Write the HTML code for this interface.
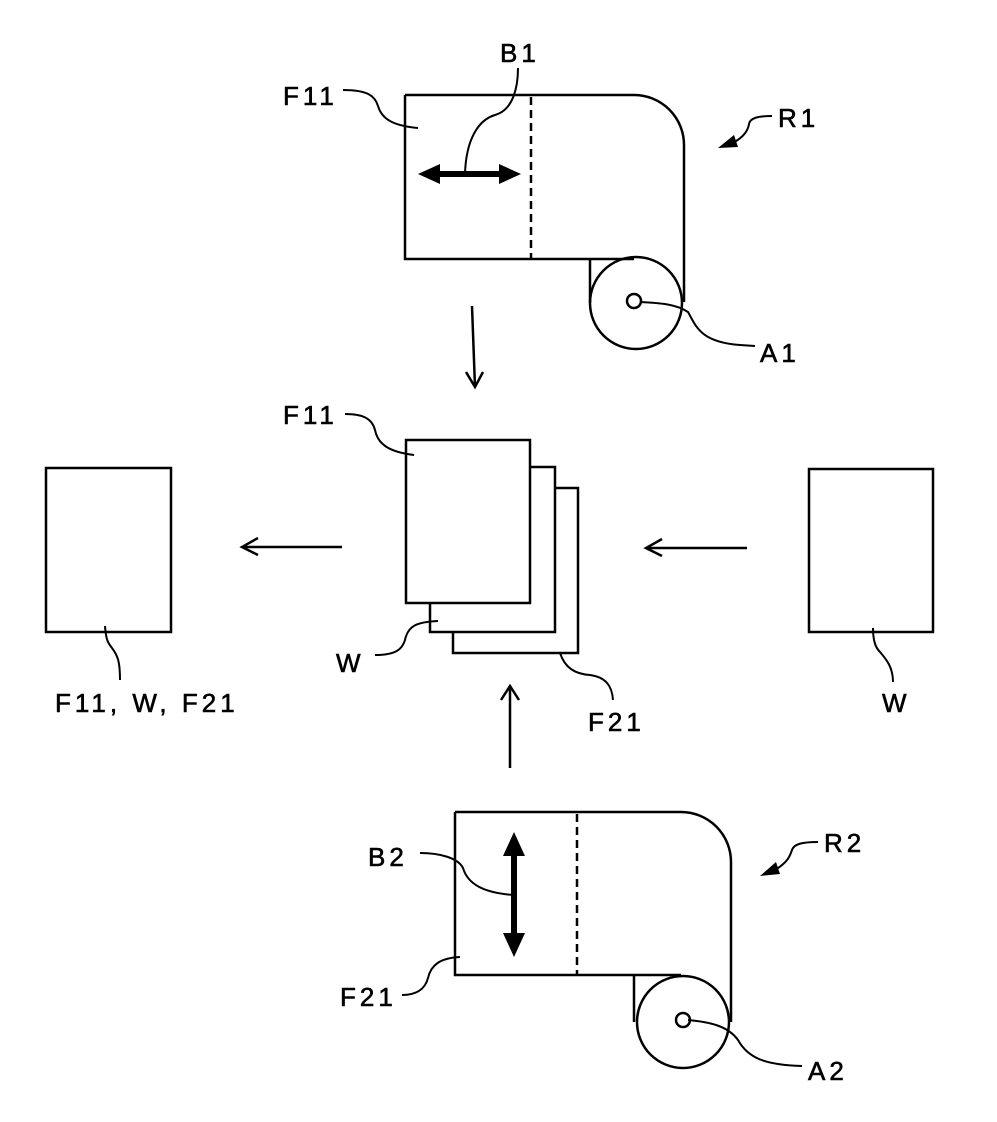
<!DOCTYPE html>
<html><head><style>
html,body{margin:0;padding:0;background:#fff;}
svg{display:block}
text{font-family:"Liberation Sans",sans-serif;font-size:26px;fill:#000;stroke:#000;stroke-width:0.6;letter-spacing:4px;}
</style></head><body>
<svg width="997" height="1122" viewBox="0 0 997 1122" xmlns="http://www.w3.org/2000/svg" fill="none" stroke="#000" stroke-width="2.5">
<!-- top roll R1 -->
<path d="M405 95 H634 A50 50 0 0 1 684 145 V302 M405 95 V259 H634"/>
<line x1="531" y1="97" x2="531" y2="259" stroke-dasharray="8,5"/>
<circle cx="636" cy="303" r="46"/>
<line x1="590" y1="259" x2="590" y2="303"/>
<circle cx="634" cy="301" r="7"/>
<!-- B1 arrow -->
<line x1="432" y1="174" x2="506" y2="174" stroke-width="6"/>
<polygon points="418,174 440,164 440,184" fill="#000" stroke="none"/>
<polygon points="521,174 499,164 499,184" fill="#000" stroke="none"/>
<!-- leaders top -->
<path d="M343 90 C368 90 375 96 378 106 C382 120 395 126 418 128" stroke-width="2"/>
<path d="M518 68 C518 85 514 110 495 115 C478 120 466 140 465 174" stroke-width="2"/>
<polygon points="718,148 734,135 738,147" fill="#000" stroke="none"/>
<path d="M733 143 C745 136 748 130 749 124 C750 118 758 116 772 116" stroke-width="2"/>
<path d="M640 302 C660 303 676 304 688 312 C696 326 700 342 740 345 L755 346" stroke-width="2"/>
<text x="500" y="62">B1</text>
<text x="283" y="105">F11</text>
<text x="778" y="127">R1</text>
<text x="760" y="362">A1</text>
<!-- down arrow -->
<path d="M472 306 L475 387 M466 372 L475 387 L483 372"/>
<!-- middle stack -->
<rect x="453" y="488" width="125" height="165" fill="#fff"/>
<rect x="430" y="467" width="125" height="165" fill="#fff"/>
<rect x="406" y="440" width="124" height="163" fill="#fff"/>
<path d="M345 414 C362 414 372 418 375 430 C378 445 390 452 414 455" stroke-width="2"/>
<text x="283" y="424">F11</text>
<path d="M375 655 C395 655 402 650 405 640 C408 625 418 622 438 621" stroke-width="2"/>
<text x="336" y="672">W</text>
<path d="M560 653 C565 668 575 674 590 675 C605 677 612 685 613 700" stroke-width="2"/>
<text x="588" y="731">F21</text>
<!-- left rect -->
<rect x="46" y="468" width="125" height="164"/>
<path d="M105 626 C106 640 108 643 112 648 C118 656 120 662 120 680" stroke-width="2"/>
<text x="55" y="712" letter-spacing="2">F11, W, F21</text>
<path d="M342 547 H242 M258 538 L242 547 L258 555"/>
<!-- right rect -->
<rect x="809" y="469" width="124" height="163"/>
<path d="M873 628 C873 642 876 648 880 652 C887 660 893 668 893 682" stroke-width="2"/>
<text x="882" y="712">W</text>
<path d="M747 548 H646 M662 539 L646 548 L662 556"/>
<!-- up arrow -->
<path d="M510 768 L510 686 M501 700 L510 686 L519 700"/>
<!-- bottom roll R2 -->
<path d="M455 812 H681 A50 50 0 0 1 731 862 V1022 M455 812 V975 H681"/>
<line x1="577" y1="814" x2="577" y2="975" stroke-dasharray="8,5"/>
<circle cx="683" cy="1022" r="46"/>
<line x1="634" y1="975" x2="634" y2="1022"/>
<circle cx="683" cy="1020" r="7"/>
<!-- B2 arrow -->
<line x1="514" y1="848" x2="514" y2="942" stroke-width="6"/>
<polygon points="514,832 503,856 525,856" fill="#000" stroke="none"/>
<polygon points="514,957 503,933 525,933" fill="#000" stroke="none"/>
<path d="M420 853 C440 853 458 858 463 868 C468 885 485 893 514 895" stroke-width="2"/>
<text x="368" y="866">B2</text>
<path d="M402 995 C415 995 425 990 428 978 C431 965 440 958 460 957" stroke-width="2"/>
<text x="340" y="1006">F21</text>
<polygon points="760,876 776,862 780,874" fill="#000" stroke="none"/>
<path d="M775 870 C788 862 790 856 792 850 C794 844 802 842 818 842" stroke-width="2"/>
<text x="824" y="852">R2</text>
<path d="M688 1020 C710 1022 728 1026 738 1040 C748 1058 765 1065 802 1066" stroke-width="2"/>
<text x="808" y="1080">A2</text>
</svg>
</body></html>
